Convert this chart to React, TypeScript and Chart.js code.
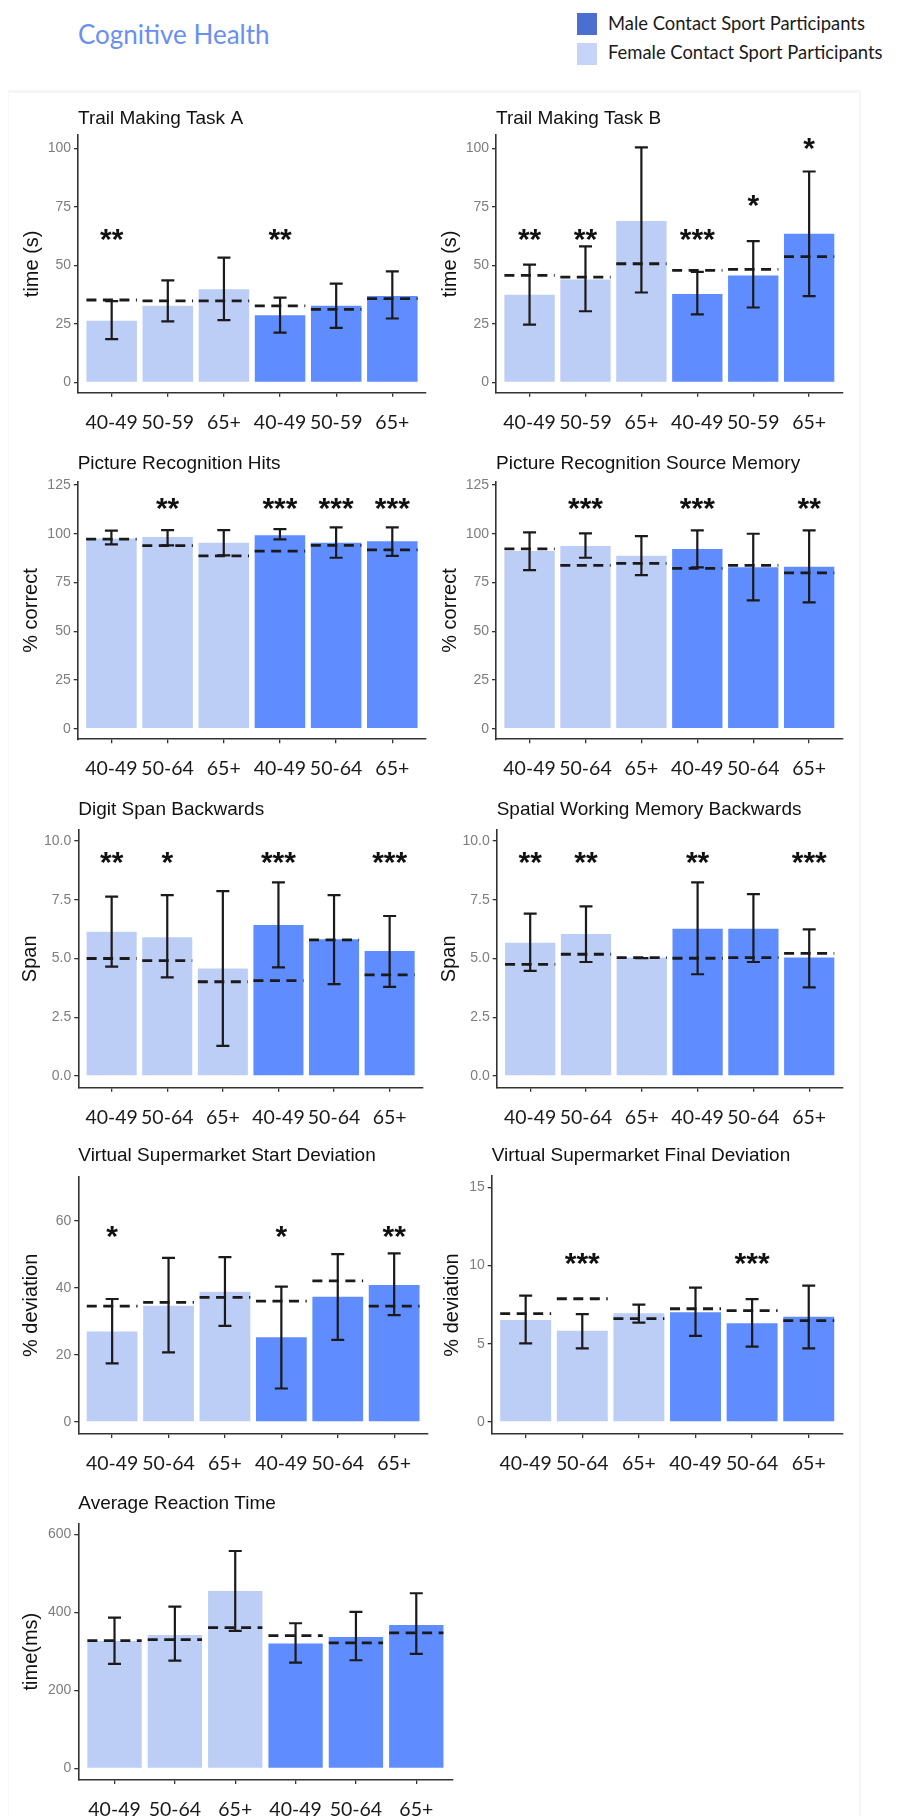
import React, { useEffect, useRef } from 'react';
import { Chart, registerables } from 'chart.js';

Chart.register(...registerables);

const FONT = "'Liberation Sans', Arial, sans-serif";
const LABEL_FONT = "Lato, 'Open Sans', sans-serif";
const FEMALE = '#bccdf6';
const MALE = '#5f8cff';
const INK = '#1a1a1a';

// ---------- categories ----------
const ageLabels59 = ['40-49', '50-59', '65+', '40-49', '50-59', '65+'];
const ageLabels64 = ['40-49', '50-64', '65+', '40-49', '50-64', '65+'];

// ---------- Trail Making Task A ----------
const trailAMean = [26.3, 32.7, 39.8, 28.7, 32.7, 36.9];
const trailALow = [18.5, 26.1, 26.6, 21.3, 23.3, 27.3];
const trailAHigh = [34.7, 43.6, 53.3, 36.2, 42.2, 47.4];
const trailANorm = [35.2, 34.8, 34.8, 32.7, 31.2, 35.8];
const trailAStars = ['**', '', '', '**', '', ''];
const trailAStarY = [62.8, null, null, 62.8, null, null];

// ---------- Trail Making Task B ----------
const trailBMean = [37.5, 44.0, 69.0, 37.8, 45.7, 63.5];
const trailBLow = [24.7, 30.4, 38.4, 29.1, 32.0, 36.9];
const trailBHigh = [50.3, 58.1, 100.4, 47.2, 60.4, 90.1];
const trailBNorm = [45.7, 45.0, 50.7, 47.9, 48.3, 53.7];
const trailBStars = ['**', '**', '', '***', '*', '*'];
const trailBStarY = [62.8, 62.8, null, 62.8, 77.7, 101.8];

// ---------- Picture Recognition Hits ----------
const picHitsMean = [97.6, 98.3, 95.4, 99.2, 95.4, 96.1];
const picHitsLow = [94.6, 94.0, 88.9, 97.1, 87.7, 88.7];
const picHitsHigh = [101.6, 101.9, 101.9, 102.4, 103.3, 103.3];
const picHitsNorm = [97.3, 93.9, 88.7, 91.1, 94.0, 91.7];
const picHitsStars = ['', '**', '', '***', '***', '***'];
const picHitsStarY = [null, 115.3, null, 115.3, 115.3, 115.3];

// ---------- Picture Recognition Source Memory ----------
const picSrcMean = [91.1, 93.7, 88.7, 92.2, 82.8, 83.1];
const picSrcLow = [81.4, 87.7, 78.8, 82.8, 65.8, 64.8];
const picSrcHigh = [100.7, 100.2, 98.8, 101.7, 100.0, 101.7];
const picSrcNorm = [92.3, 83.8, 84.8, 82.3, 83.8, 79.9];
const picSrcStars = ['', '***', '', '***', '', '**'];
const picSrcStarY = [null, 115.3, null, 115.3, null, 115.3];

// ---------- Digit Span Backwards ----------
const digitMean = [6.14, 5.9, 4.57, 6.43, 5.82, 5.32];
const digitLow = [4.65, 4.2, 1.28, 4.62, 3.91, 3.79];
const digitHigh = [7.63, 7.7, 7.87, 8.24, 7.7, 6.81];
const digitNorm = [5.0, 4.91, 4.01, 4.06, 5.79, 4.3];
const digitStars = ['**', '*', '', '***', '', '***'];
const digitStarY = [9.29, 9.29, null, 9.29, null, 9.29];

// ---------- Spatial Working Memory Backwards ----------
const spatialMean = [5.67, 6.04, 5.04, 6.27, 6.27, 5.04];
const spatialLow = [4.47, 4.85, 5.02, 4.33, 4.85, 3.77];
const spatialHigh = [6.91, 7.22, 5.02, 8.24, 7.74, 6.24];
const spatialNorm = [4.75, 5.18, 5.04, 5.01, 5.04, 5.22];
const spatialStars = ['**', '**', '', '**', '', '***'];
const spatialStarY = [9.29, 9.29, null, 9.29, null, 9.29];

// ---------- Virtual Supermarket Start Deviation ----------
const vsStartMean = [27.0, 34.7, 38.9, 25.3, 37.4, 40.9];
const vsStartLow = [17.5, 20.8, 28.7, 10.0, 24.5, 31.9];
const vsStartHigh = [36.7, 49.0, 49.2, 40.4, 50.1, 50.3];
const vsStartNorm = [34.6, 35.7, 37.2, 36.1, 42.1, 34.6];
const vsStartStars = ['*', '', '', '*', '', '**'];
const vsStartStarY = [56.8, null, null, 56.8, null, 56.8];

// ---------- Virtual Supermarket Final Deviation ----------
const vsFinalMean = [6.52, 5.84, 6.95, 7.01, 6.31, 6.73];
const vsFinalLow = [5.03, 4.71, 6.35, 5.5, 4.82, 4.71];
const vsFinalHigh = [8.08, 6.9, 7.51, 8.59, 7.86, 8.72];
const vsFinalNorm = [6.93, 7.88, 6.61, 7.24, 7.12, 6.48];
const vsFinalStars = ['', '***', '', '', '***', ''];
const vsFinalStarY = [null, 10.4, null, null, 10.4, null];

// ---------- Average Reaction Time ----------
const rtMean = [326.5, 341.9, 454.7, 319.7, 336.8, 367.5];
const rtLow = [267.5, 276, 352, 271, 277, 293.2];
const rtHigh = [386, 414.5, 557, 371.8, 400.9, 448.7];
const rtNorm = [327.4, 330, 360.7, 340.2, 321.4, 347];
const rtStars = ['', '', '', '', '', ''];
const rtStarY = [null, null, null, null, null, null];

// ---------- y ticks ----------
const ticksTime = [0, 25, 50, 75, 100];
const ticksPct = [0, 25, 50, 75, 100, 125];
const ticksSpan = [0, 2.5, 5, 7.5, 10];
const ticksStart = [0, 20, 40, 60];
const ticksFinal = [0, 5, 10, 15];
const ticksRT = [0, 200, 400, 600];

const groupColors = [FEMALE, FEMALE, FEMALE, MALE, MALE, MALE];

type Panel = {
  title: string; yTitle: string; labels: string[];
  mean: number[]; low: (number | null)[]; high: (number | null)[]; norm: number[];
  stars: string[]; starY: (number | null)[];
  yTicks: number[]; yMin: number; yMax: number; decimals: number;
  L: number; R: number; T: number; B: number; titleGap: number; yTitleCx: number;
};

const panels: Panel[] = [
  { title: 'Trail Making Task A', yTitle: 'time (s)', labels: ageLabels59, mean: trailAMean, low: trailALow, high: trailAHigh, norm: trailANorm, stars: trailAStars, starY: trailAStarY, yTicks: ticksTime, yMin: -4.4, yMax: 105.7, decimals: 0, L: 78, R: 426, T: 135, B: 392.7, titleGap: 16.7, yTitleCx: 32 },
  { title: 'Trail Making Task B', yTitle: 'time (s)', labels: ageLabels59, mean: trailBMean, low: trailBLow, high: trailBHigh, norm: trailBNorm, stars: trailBStars, starY: trailBStarY, yTicks: ticksTime, yMin: -4.4, yMax: 105.7, decimals: 0, L: 496, R: 842.7, T: 135, B: 392.7, titleGap: 16.7, yTitleCx: 450 },
  { title: 'Picture Recognition Hits', yTitle: '% correct', labels: ageLabels64, mean: picHitsMean, low: picHitsLow, high: picHitsHigh, norm: picHitsNorm, stars: picHitsStars, starY: picHitsStarY, yTicks: ticksPct, yMin: -5.4, yMax: 126.7, decimals: 0, L: 77.7, R: 426, T: 481.7, B: 739.3, titleGap: 18.4, yTitleCx: 31.7 },
  { title: 'Picture Recognition Source Memory', yTitle: '% correct', labels: ageLabels64, mean: picSrcMean, low: picSrcLow, high: picSrcHigh, norm: picSrcNorm, stars: picSrcStars, starY: picSrcStarY, yTicks: ticksPct, yMin: -5.4, yMax: 126.7, decimals: 0, L: 496, R: 842.7, T: 481.7, B: 739.3, titleGap: 18.4, yTitleCx: 450 },
  { title: 'Digit Span Backwards', yTitle: 'Span', labels: ageLabels64, mean: digitMean, low: digitLow, high: digitHigh, norm: digitNorm, stars: digitStars, starY: digitStarY, yTicks: ticksSpan, yMin: -0.5, yMax: 10.47, decimals: 1, L: 78.3, R: 423, T: 830, B: 1087.7, titleGap: 20, yTitleCx: 30 },
  { title: 'Spatial Working Memory Backwards', yTitle: 'Span', labels: ageLabels64, mean: spatialMean, low: spatialLow, high: spatialHigh, norm: spatialNorm, stars: spatialStars, starY: spatialStarY, yTicks: ticksSpan, yMin: -0.5, yMax: 10.47, decimals: 1, L: 496.7, R: 842.7, T: 830, B: 1087.7, titleGap: 20, yTitleCx: 449 },
  { title: 'Virtual Supermarket Start Deviation', yTitle: '% deviation', labels: ageLabels64, mean: vsStartMean, low: vsStartLow, high: vsStartHigh, norm: vsStartNorm, stars: vsStartStars, starY: vsStartStarY, yTicks: ticksStart, yMin: -3.58, yMax: 73.2, decimals: 0, L: 78.3, R: 428, T: 1176.7, B: 1434, titleGap: 20.7, yTitleCx: 31.7 },
  { title: 'Virtual Supermarket Final Deviation', yTitle: '% deviation', labels: ageLabels64, mean: vsFinalMean, low: vsFinalLow, high: vsFinalHigh, norm: vsFinalNorm, stars: vsFinalStars, starY: vsFinalStarY, yTicks: ticksFinal, yMin: -0.77, yMax: 15.73, decimals: 0, L: 491.7, R: 842.7, T: 1176, B: 1434, titleGap: 20, yTitleCx: 452 },
  { title: 'Average Reaction Time', yTitle: 'time(ms)', labels: ageLabels64, mean: rtMean, low: rtLow, high: rtHigh, norm: rtNorm, stars: rtStars, starY: rtStarY, yTicks: ticksRT, yMin: -30, yMax: 628, decimals: 0, L: 78.3, R: 452.5, T: 1523.3, B: 1780, titleGap: 20, yTitleCx: 31.7 },
];

const WY = 70;
const HX = 46;
const TITLE_SIZE = 19;
const TITLE_LH = TITLE_SIZE * 1.2;

function geometry(p: Panel) {
  const titleB = p.titleGap - TITLE_LH / 2;
  const left = Math.floor(p.L - WY);
  const padLeft = p.L - WY - left;
  const top0 = p.T - TITLE_LH - titleB - 4;
  const top = Math.floor(top0);
  const padTop = p.T - TITLE_LH - titleB - top;
  const width = Math.ceil(p.R + 6 - left);
  const padRight = width - (p.R - left);
  const height = Math.ceil(p.B + HX - top);
  const padBottom = height - HX - (p.B - top);
  return { titleB, left, top, width, height, padLeft, padTop, padRight, padBottom };
}

function ChartPanel({ p }: { p: Panel }) {
  const ref = useRef<HTMLCanvasElement | null>(null);
  const g = geometry(p);

  useEffect(() => {
    if (!ref.current) return;
    const overlay = {
      id: 'overlay' + p.title,
      afterDatasetsDraw(chart: any) {
        const ctx = chart.ctx;
        const ys = chart.scales.y;
        const meta = chart.getDatasetMeta(0);
        meta.data.forEach((bar: any, i: number) => {
          const x = bar.x;
          const w = bar.width;
          ctx.save();
          ctx.strokeStyle = INK;
          // reference (dashed) line
          const yn = ys.getPixelForValue(p.norm[i]);
          ctx.lineWidth = 2.8;
          ctx.setLineDash([10, 6.5]);
          ctx.beginPath();
          ctx.moveTo(x - w / 2, yn);
          ctx.lineTo(x + w / 2, yn);
          ctx.stroke();
          ctx.setLineDash([]);
          // error bar
          const lo = p.low[i];
          const hi = p.high[i];
          if (lo != null && hi != null) {
            const yl = ys.getPixelForValue(lo);
            const yh = ys.getPixelForValue(hi);
            const c = 6.5;
            ctx.lineWidth = 2.2;
            ctx.beginPath();
            ctx.moveTo(x, yl); ctx.lineTo(x, yh);
            ctx.moveTo(x - c, yl); ctx.lineTo(x + c, yl);
            ctx.moveTo(x - c, yh); ctx.lineTo(x + c, yh);
            ctx.stroke();
          }
          // significance stars
          const s = p.stars[i];
          const sy = p.starY[i];
          if (s && sy != null) {
            ctx.font = `bold 30px ${FONT}`;
            ctx.fillStyle = '#111';
            ctx.textAlign = 'center';
            ctx.textBaseline = 'alphabetic';
            const m = ctx.measureText(s);
            const asc = m.actualBoundingBoxAscent;
            const desc = m.actualBoundingBoxDescent;
            const py = ys.getPixelForValue(sy);
            ctx.fillText(s, x, py + (asc - desc) / 2);
          }
          ctx.restore();
        });
      },
    };

    const chart = new Chart(ref.current, {
      type: 'bar',
      data: {
        datasets: [
          {
            label: p.title,
            data: p.mean.map((v, i) => ({ x: i, y: v })),
            backgroundColor: groupColors,
            borderWidth: 0,
            barPercentage: 0.9,
            categoryPercentage: 1,
          } as any,
        ],
      },
      options: {
        responsive: false,
        animation: false,
        devicePixelRatio: 1,
        layout: { padding: { left: g.padLeft, right: g.padRight, top: g.padTop, bottom: g.padBottom } },
        plugins: {
          legend: { display: false },
          tooltip: { enabled: false },
          title: {
            display: true,
            text: p.title,
            align: 'start',
            fullSize: false,
            color: '#111',
            font: { size: TITLE_SIZE, family: FONT, weight: 'normal' },
            padding: { top: 0, bottom: g.titleB },
          },
        },
        scales: {
          x: {
            type: 'linear',
            offset: false,
            min: -0.6,
            max: 5.6,
            afterBuildTicks: (s: any) => { s.ticks = p.labels.map((_, i) => ({ value: i })); },
            afterFit: (s: any) => { s.height = HX; },
            ticks: {
              autoSkip: false,
              maxRotation: 0,
              padding: 14,
              color: INK,
              font: { size: 19.5, family: LABEL_FONT },
              callback: (v: any) => p.labels[Math.round(v)] ?? '',
            },
            grid: { offset: false, drawOnChartArea: false, drawTicks: true, tickLength: 4, color: '#333', lineWidth: 1.3 },
            border: { display: true, color: '#333', width: 1.6 },
          },
          y: {
            type: 'linear',
            min: p.yMin,
            max: p.yMax,
            afterBuildTicks: (s: any) => { s.ticks = p.yTicks.map((v) => ({ value: v })); },
            afterFit: (s: any) => { s.width = WY; },
            ticks: {
              padding: 3,
              color: '#7d7d7d',
              font: { size: 14, family: FONT },
              callback: (v: any) => Number(v).toFixed(p.decimals),
            },
            grid: { drawOnChartArea: false, drawTicks: true, tickLength: 4, color: '#333', lineWidth: 1.3 },
            border: { display: true, color: '#333', width: 1.6 },
            title: {
              display: true,
              text: p.yTitle,
              color: '#111',
              font: { size: 20, family: FONT },
              padding: { top: p.yTitleCx - (p.L - WY) - 12, bottom: 0 },
            },
          },
        },
      } as any,
      plugins: [overlay],
    });
    return () => chart.destroy();
  }, []);

  return (
    <canvas
      ref={ref}
      width={g.width}
      height={g.height}
      style={{ position: 'absolute', left: g.left, top: g.top, width: g.width, height: g.height }}
    />
  );
}

export default function App() {
  return (
    <div style={{ position: 'absolute', left: 0, top: 0, width: 910, height: 1816, overflow: 'hidden', background: '#fff' }}>
      <div style={{ position: 'absolute', left: 8, top: 90, width: 850, height: 1740, borderTop: '3px solid #f5f5f5', borderLeft: '1px solid #f7f7f7', borderRight: '2px solid #f5f5f5' }} />
      <div style={{ position: 'absolute', left: 78, top: 18, fontFamily: LABEL_FONT, fontSize: 26, lineHeight: '32px', color: '#6a8ff0', whiteSpace: 'nowrap' }}>
        Cognitive Health
      </div>
      <div style={{ position: 'absolute', left: 577, top: 13, width: 20, height: 22, background: '#4a6fd0' }} />
      <div style={{ position: 'absolute', left: 608, top: 11, fontFamily: LABEL_FONT, fontSize: 18.4, lineHeight: '24px', color: INK, whiteSpace: 'nowrap' }}>
        Male Contact Sport Participants
      </div>
      <div style={{ position: 'absolute', left: 577, top: 43, width: 20, height: 22, background: '#c6d4f7' }} />
      <div style={{ position: 'absolute', left: 608, top: 40, fontFamily: LABEL_FONT, fontSize: 18.4, lineHeight: '24px', color: INK, whiteSpace: 'nowrap' }}>
        Female Contact Sport Participants
      </div>
      {panels.map((p) => (
        <ChartPanel key={p.title} p={p} />
      ))}
    </div>
  );
}
